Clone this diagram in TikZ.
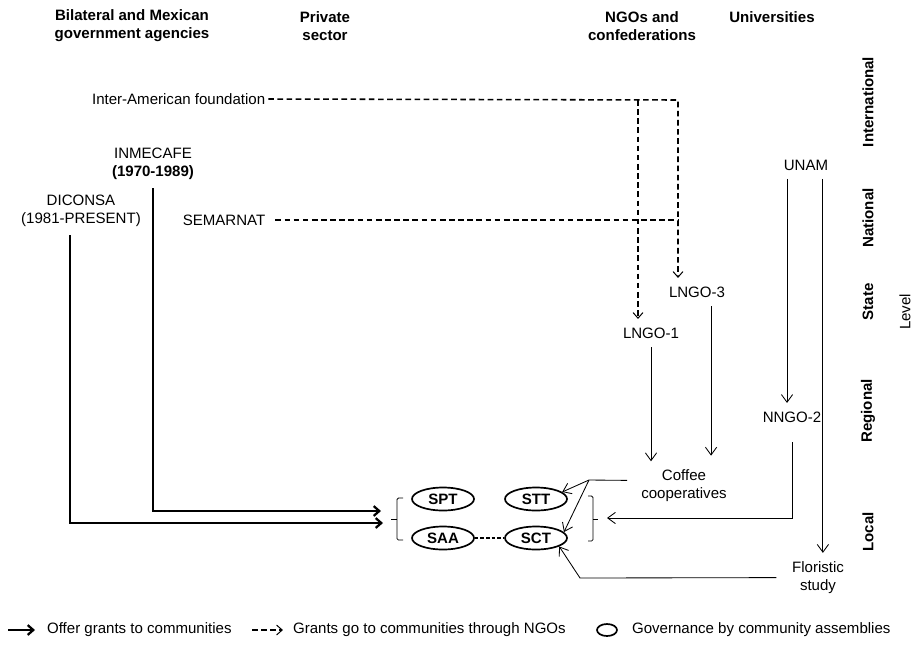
\documentclass[tikz,border=0pt]{standalone}
\usepackage{fontspec}
\setmainfont{Liberation Sans}
\usetikzlibrary{shapes.geometric, arrows.meta}
\newcommand\diagfont{\fontsize{10.7}{12.8}\selectfont}
\tikzstyle{actor} = [
    inner xsep=2pt,
    inner ysep=6pt,
    align=center,
    font=\diagfont
]
\tikzstyle{heading} = [
    actor,
    font=\diagfont\bfseries
]
\tikzstyle{levelname} = [
    heading,
    rotate=90
]
\tikzstyle{assembly} = [
    ellipse,
    draw=black,
    line width=1.2pt,
    minimum width=1.55cm,
    minimum height=0.575cm,
    inner sep=0pt,
    font=\diagfont\bfseries
]
\tikzstyle{grant} = [line width=1.6pt,-{Straight Barb[length=4pt,width=7pt]}]
\tikzstyle{ngoline} = [line width=1.1pt,dash pattern=on 4pt off 2.5pt]
\tikzstyle{viango} = [ngoline,-{Straight Barb[length=4pt,width=7pt,line width=0.7pt]}]
\tikzstyle{link} = [line width=0.6pt,-{Straight Barb[length=5.5pt,width=8pt]}]
\tikzstyle{brace} = [line width=0.6pt,rounded corners=1pt]

\begin{document}
\begin{tikzpicture}[x=0.025cm,y=-0.025cm]
\useasboundingbox (0,0) rectangle (912,647);

% column headings
\node (agencies) [heading] at (132,26) {Bilateral and Mexican\\government agencies};
\node (private) [heading] at (325,26) {Private\\sector};
\node (ngos) [heading] at (642,26) {NGOs and\\confederations};
\node (universities) [heading] at (772,17) {Universities};

% levels
\node (intl) [levelname] at (868,102) {International};
\node (national) [levelname] at (868,218) {National};
\node (state) [levelname] at (868,302) {State};
\node (regional) [levelname] at (868,411) {Regional};
\node (local) [levelname] at (868,532) {Local};
\node (level) [actor, rotate=90] at (905,312) {Level};

% actors
\node (iaf) [actor, anchor=west] at (89,99) {Inter-American foundation};
\node (inmecafe) [actor] at (153,163.6) {INMECAFE\\\textbf{(1970-1989)}};
\node (diconsa) [actor] at (81,210.6) {DICONSA\\(1981-PRESENT)};
\node (semarnat) [actor] at (224,220) {SEMARNAT};
\node (unam) [actor] at (806,165) {UNAM};
\node (lngo3) [actor] at (697,292) {LNGO-3};
\node (lngo1) [actor] at (651,333) {LNGO-1};
\node (nngo2) [actor] at (792,417) {NNGO-2};
\node (coffee) [actor] at (684,486) {Coffee\\cooperatives};
\node (floristic) [actor] at (818,577.6) {Floristic\\study};

% communities
\node (spt) [assembly] at (443,499) {SPT};
\node (stt) [assembly] at (536,499) {STT};
\node (saa) [assembly] at (443,538) {SAA};
\node (sct) [assembly] at (536,538) {SCT};
\draw [line width=1.2pt, dash pattern=on 2.5pt off 1.5pt] (saa) -- (sct);
\draw [brace] (403,498) -- (397,498) -- (397,540) -- (403,540);
\draw [brace] (397,519) -- (391,519);
\draw [brace] (588,496) -- (593,496) -- (593,541) -- (588,541);
\draw [brace] (593,519) -- (598,519);

% bends and free ends
\coordinate (iafturn) at (678,100);
\coordinate (iafsplit) at (638,100);
\coordinate (inmecafein) at (381,511);
\coordinate (diconsain) at (383,523);
\coordinate (diconsaout) at ([xshift=-8pt]diconsa.south);
\coordinate (unamleft) at ([xshift=-13.5pt]unam.south);
\coordinate (unamright) at ([xshift=12pt]unam.south);
\coordinate (lngo3out) at ([xshift=10pt]lngo3.south);
\coordinate (coffeeout) at ([xshift=-8pt,yshift=4pt]coffee.west);
\coordinate (coffeefork) at (589,480);
\coordinate (nngoin) at (607,518);
\coordinate (floristicout) at ([xshift=-9pt]floristic.west);
\coordinate (floristicbend) at (580,578);

% grants through NGOs
\draw [viango] (iaf.east) -- (iafturn) -- (iafturn |- lngo3.north);
\draw [viango] (iafsplit) -- (iafsplit |- lngo1.north);
\draw [ngoline, shorten <=5pt] (semarnat.east) -- (iafturn |- semarnat.east);

% direct grants
\draw [grant] (inmecafe.south) |- (inmecafein);
\draw [grant] (diconsaout) |- (diconsain);

% NGOs, universities and cooperatives
\draw [link] (lngo1.south) -- (lngo1.south |- coffee.north);
\draw [link, shorten >=4pt] (lngo3out) -- (lngo3out |- coffee.north);
\draw [link] (unamleft) -- (unamleft |- nngo2.north);
\draw [link] (unamright) -- (unamright |- floristic.north);
\draw [link, shorten <=8pt] (nngo2.south) |- (nngoin);
\draw [link] (coffeeout) -- (coffeefork) -- (stt.15);
\draw [link] (coffeefork) -- (sct.12);
\draw [link] (floristicout) -- (floristicbend) -- (sct.-20);

% legend
\node (keygrant) [actor, anchor=west] at (44,630) {Offer grants to communities};
\draw [grant] ([xshift=-25.6pt]keygrant.west) -- ([xshift=-6.4pt]keygrant.west);
\node (keyngo) [actor, anchor=west] at (290,630) {Grants go to communities through NGOs};
\draw [viango, line width=0.8pt] ([xshift=-27pt]keyngo.west) -- ([xshift=-5pt]keyngo.west);
\node (keyassembly) [assembly, minimum width=0.5cm, minimum height=0.3cm] at (607,630) {};
\node (keygov) [actor, anchor=west] at (629,630) {Governance by community assemblies};

\end{tikzpicture}
\end{document}
